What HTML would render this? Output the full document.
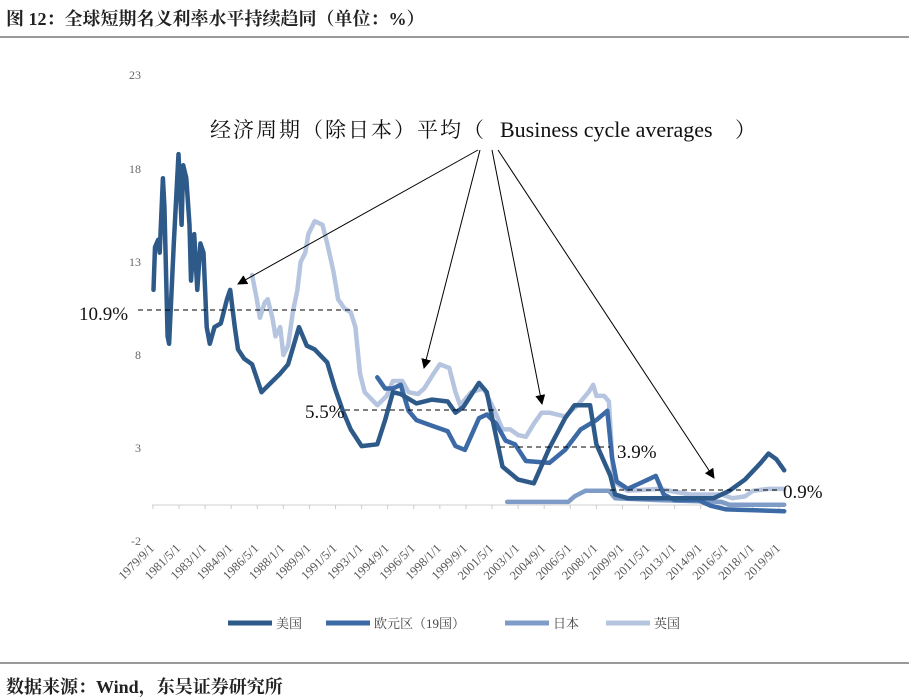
<!DOCTYPE html>
<html><head><meta charset="utf-8"><style>
body{margin:0;background:#fff;width:909px;height:696px;overflow:hidden;position:relative;font-family:"Liberation Serif","Noto Serif CJK SC",serif}
.t{position:absolute;left:6px;top:5px;font-size:18px;font-weight:bold;color:#222}
.s{position:absolute;left:6px;top:673px;font-size:18px;font-weight:bold;color:#222}
</style></head><body>
<div class="t">图 12：全球短期名义利率水平持续趋同（单位：%）</div>
<div class="s">数据来源：Wind，东吴证券研究所</div>
<svg id="c" width="909" height="696" style="position:absolute;left:0;top:0">
<line x1="0" y1="37" x2="909" y2="37" stroke="#333" stroke-width="1"/>
<line x1="0" y1="663" x2="909" y2="663" stroke="#333" stroke-width="1"/>
<g font-size="12" fill="#666" text-anchor="end" font-family="Liberation Serif,serif">
<text x="141" y="79">23</text><text x="141" y="173">18</text><text x="141" y="266">13</text><text x="141" y="359">8</text><text x="141" y="452">3</text><text x="141" y="545">-2</text>
</g>
<line x1="152" y1="505" x2="780" y2="505" stroke="#d0d0d0"/>
<g id="xl" font-size="12.5" fill="#555" font-family="Liberation Serif,serif"></g>
<g id="ser" fill="none" stroke-width="4.5" stroke-linejoin="round" stroke-linecap="round"></g>
<g stroke="#000" stroke-dasharray="5,4" stroke-width="1">
<line x1="138" y1="310" x2="358" y2="310"/><line x1="345" y1="410" x2="500" y2="410"/>
<line x1="500" y1="447" x2="610" y2="447"/><line x1="610" y1="490" x2="777" y2="490"/>
</g>
<g font-size="19" fill="#111" font-family="Liberation Serif,serif">
<text x="79" y="320">10.9%</text><text x="305" y="418">5.5%</text><text x="617" y="458">3.9%</text><text x="783" y="498">0.9%</text>
</g>
<text x="210" y="137" font-size="21" fill="#111" font-family="Liberation Serif,'Noto Serif CJK SC',serif"><tspan letter-spacing="2">经济周期（除日本）平均（</tspan><tspan x="500" font-size="22">Business cycle averages</tspan><tspan x="735">）</tspan></text>
<defs><marker id="a" markerWidth="10" markerHeight="10" refX="9" refY="5" orient="auto" markerUnits="userSpaceOnUse"><path d="M0,0L10,5L0,10z" fill="#000"/></marker></defs>
<g stroke="#000" stroke-width="1" marker-end="url(#a)">
<line x1="478" y1="150" x2="238" y2="284"/><line x1="480" y1="150" x2="424" y2="368"/>
<line x1="492" y1="150" x2="542" y2="404"/><line x1="498" y1="150" x2="714" y2="478"/>
</g>
<g font-size="13" fill="#444" font-family="Liberation Serif,'Noto Serif CJK SC',serif">
<line x1="228" y1="623" x2="272" y2="623" stroke="#2e5a8a" stroke-width="5"/><text x="276" y="628">美国</text>
<line x1="326" y1="623" x2="370" y2="623" stroke="#3c6aa6" stroke-width="5"/><text x="374" y="628">欧元区（19国）</text>
<line x1="505" y1="623" x2="549" y2="623" stroke="#7f9cc8" stroke-width="5"/><text x="553" y="628">日本</text>
<line x1="606" y1="623" x2="650" y2="623" stroke="#b5c5df" stroke-width="5"/><text x="654" y="628">英国</text>
</g>
</svg>
<script>
function X(y){return 153+(y-1979.67)*15.65}
function Y(v){return 448-(v-3)*18.6}
var NS="http://www.w3.org/2000/svg";
var labs=[];for(var i=0;i<25;i++){var m=1979*12+8+i*20;labs.push([Math.floor(m/12),m%12+1]);}
var xl=document.getElementById('xl');
labs.forEach(function(l){var yr=l[0]+(l[1]-1)/12;var x=X(yr);var lx=x+2,ly=549;var t=document.createElementNS(NS,'text');t.setAttribute('x',lx);t.setAttribute('y',ly);t.setAttribute('text-anchor','end');t.setAttribute('transform','rotate(-45 '+lx+' '+ly+')');t.textContent=l[0]+'/'+l[1]+'/1';xl.appendChild(t);
var tk=document.createElementNS(NS,'line');tk.setAttribute('x1',x);tk.setAttribute('x2',x);tk.setAttribute('y1',505);tk.setAttribute('y2',509);tk.setAttribute('stroke','#ccc');document.getElementById('c').insertBefore(tk,xl);});
var S=[
["#b5c5df",[[1986,12.3],[1986.3,11],[1986.5,10],[1986.8,10.8],[1987,11],[1987.3,10],[1987.5,9],[1987.8,9.5],[1988,8],[1988.3,8.5],[1988.6,10.3],[1988.9,11.5],[1989.1,13],[1989.4,13.5],[1989.6,14.5],[1990,15.2],[1990.5,15],[1990.8,14],[1991.2,12.5],[1991.5,11],[1991.9,10.5],[1992.3,10.3],[1992.6,9.5],[1992.9,7],[1993.2,6],[1994,5.3],[1994.6,5.8],[1995,6.6],[1995.6,6.6],[1996,6],[1996.6,5.9],[1997.0,6.2],[1997.6,7],[1998,7.5],[1998.6,7.3],[1999,6],[1999.3,5.3],[2000,6],[2000.8,6.2],[2001.5,5],[2002,4],[2002.5,4],[2003,3.7],[2003.5,3.6],[2004,4.3],[2004.5,4.9],[2005,4.9],[2006,4.7],[2006.8,5.3],[2007.5,6.0],[2007.8,6.4],[2008,5.8],[2008.5,5.8],[2008.8,5.5],[2009.1,1.2],[2010,0.7],[2012,0.8],[2014,0.5],[2016,0.5],[2016.7,0.3],[2017.5,0.4],[2018,0.7],[2019,0.8],[2020,0.8]]],
["#7f9cc8",[[2002.3,0.1],[2006.2,0.1],[2006.6,0.4],[2007.3,0.7],[2008.8,0.7],[2009.2,0.3],[2012,0.2],[2016,0.1],[2016.5,-0.05],[2020,-0.05]]],
["#3c6aa6",[[1994,6.8],[1994.5,6.2],[1995,6.2],[1995.5,6.4],[1996,5],[1996.5,4.5],[1997.5,4.2],[1998.5,3.9],[1999,3.1],[1999.6,2.9],[2000.5,4.6],[2001,4.8],[2001.6,4.3],[2002.2,3.4],[2002.8,3.2],[2003.5,2.3],[2005,2.2],[2006,2.9],[2007,4.0],[2008,4.5],[2008.7,5.0],[2009.0,2.5],[2009.3,1.2],[2010,0.8],[2011.3,1.3],[2011.8,1.5],[2012.3,0.5],[2013,0.2],[2014.5,0.2],[2015.3,-0.1],[2016.3,-0.3],[2020,-0.4]]],
["#2e5a8a",[[1979.7,11.5],[1979.8,13.8],[1980.0,14.2],[1980.1,13.5],[1980.3,17.5],[1980.4,16],[1980.6,9],[1980.7,8.6],[1981.0,14],[1981.3,18.8],[1981.5,15],[1981.6,18.2],[1981.8,17.5],[1982,15],[1982.1,12],[1982.3,14.5],[1982.5,11.5],[1982.7,14],[1982.9,13.5],[1983.1,9.5],[1983.3,8.6],[1983.6,9.5],[1984.0,9.7],[1984.4,11],[1984.6,11.5],[1984.9,9.5],[1985.1,8.3],[1985.5,7.8],[1986,7.5],[1986.6,6],[1987.2,6.5],[1987.8,7],[1988.3,7.5],[1989,9.5],[1989.5,8.5],[1990,8.3],[1990.8,7.6],[1991.3,6.2],[1991.8,5],[1992.3,4],[1993,3.1],[1994,3.2],[1994.5,4.5],[1995,6],[1995.5,5.9],[1996.5,5.4],[1997.5,5.6],[1998.5,5.5],[1999,4.9],[1999.5,5.2],[2000.5,6.5],[2001,6.0],[2001.5,4],[2002,2.0],[2003,1.3],[2004,1.1],[2005,3],[2006,4.6],[2006.6,5.3],[2007.6,5.3],[2008.0,3.2],[2008.9,1.5],[2009.2,0.5],[2010,0.3],[2015.5,0.3],[2016.5,0.7],[2017.5,1.3],[2018.5,2.2],[2019.0,2.7],[2019.5,2.4],[2020,1.8]]]
];
var g=document.getElementById('ser');
S.forEach(function(s){var p=document.createElementNS(NS,'polyline');p.setAttribute('stroke',s[0]);p.setAttribute('points',s[1].map(function(d){return X(d[0]).toFixed(1)+','+Y(d[1]).toFixed(1)}).join(' '));g.appendChild(p);});
</script>
</body></html>
